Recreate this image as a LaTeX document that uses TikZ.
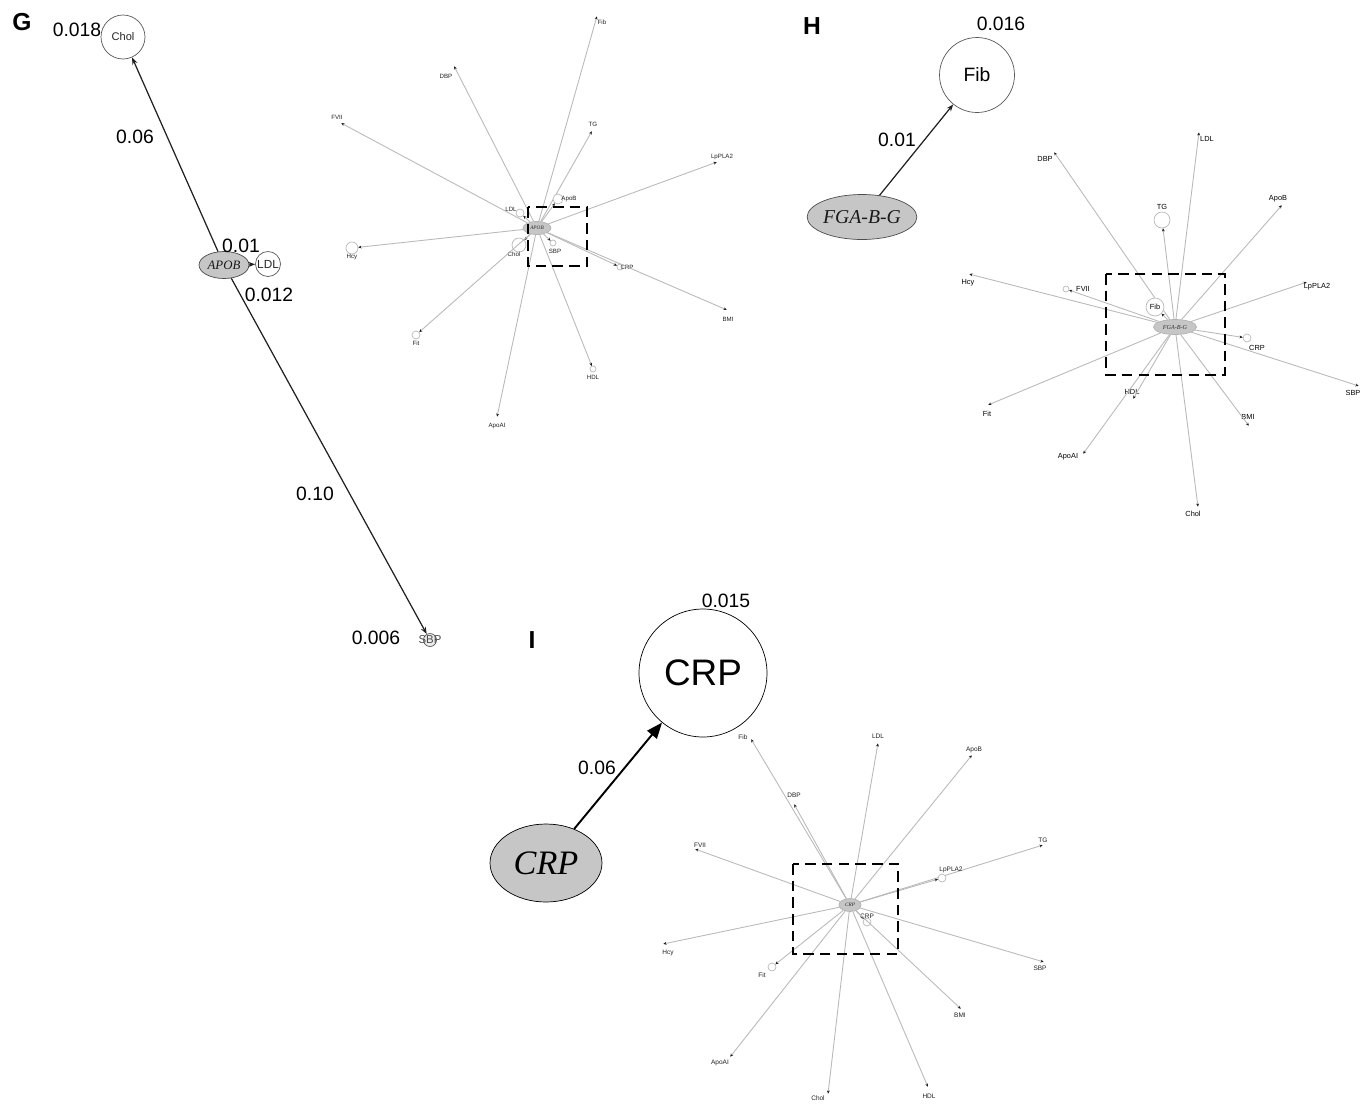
\documentclass[tikz,border=0pt]{standalone}
\usepackage{fontspec}
\setmainfont{Liberation Sans}
\newfontfamily\genefont{Liberation Serif}
\usetikzlibrary{arrows.meta, shapes.geometric, positioning}
\def\px{0.02}

\tikzset{
  num/.style={font=\fontsize{11}{13}\selectfont, inner sep=0pt},
  panel/.style={font=\fontsize{14}{16}\selectfont\bfseries, inner sep=0pt},
  trait/.style={circle, draw=gray!70!black, fill=white, inner sep=0pt, text=gray!30!black, font=\fontsize{#1}{#1}\selectfont},
  gene/.style={ellipse, draw=gray!60!black, fill=gray!45, inner sep=0pt, text=gray!20!black, font=\genefont\itshape\fontsize{#1}{#1}\selectfont},
  link/.style={draw=gray!25!black, line width=0.7pt, -{Stealth[length=4pt,width=3pt]}},
  spoke/.style={draw=gray!55, line width=0.5pt, -{Stealth[length=1.8pt,width=1.6pt,color=gray!20!black]}},
  leaf/.style={circle, draw=gray!55, fill=white, inner sep=0pt},
  lbl/.style={inner sep=0pt, text=gray!25!black, font=\fontsize{#1}{#1}\selectfont},
  hub/.style={ellipse, draw=gray!60, fill=gray!45, inner sep=0pt, text=gray!35!black, font=\genefont\itshape\fontsize{#1}{#1}\selectfont},
  zoombox/.style={draw=black, line width=1.6pt, dash pattern=on 6pt off 3.5pt},
}

\begin{document}
\begin{tikzpicture}[x=\px cm, y=-\px cm]
  \clip (0,0) rectangle (1363,1103);

  % Panel G
  \node[panel] (gtag) at (22,22) {G};
  \node[num] (gcholv) at (77,30) {0.018};
  \node[trait=6.3, minimum size=0.88cm] (chol) at (123,37) {Chol};
  \node[gene=7.3, minimum width=1cm, minimum height=0.54cm] (apob) at (224,265) {APOB};
  \node[trait=6.7, minimum size=0.5cm] (ldl) at (268,264) {LDL};
  \node[trait=4, minimum size=0.26cm, fill=gray!15] (sbp) at (430,640) {};
  \node[lbl=6.5, text=gray!60!black] (sbpt) at (430,640) {SBP};
  \node[num] (gl1) at (135,137) {0.06};
  \node[num] (gl2) at (241,246) {0.01};
  \node[num] (gl3) at (269,295) {0.012};
  \node[num] (gl4) at (315,494) {0.10};
  \node[num] (gl5) at (376,638) {0.006};
  \draw[link] (apob) -- (chol);
  \draw[link] (apob) -- (ldl);
  \draw[link] (apob) -- (sbp);

  % G: whole network
  \node[hub=3, minimum width=0.56cm, minimum height=0.26cm] (gc) at (537,228) {APOB};
  \foreach \n/\x/\y/\r/\lx/\ly in {
      Fib/597/16/0/602/22,
      DBP/454/66/0/446/76,
      FVII/341/123/0/337/117,
      TG/592/131/0/593/124,
      LpPLA2/717/162/0/722/157,
      ApoB/558/199/5/569/199,
      LDL/520/213/4/511/209,
      Hcy/352/248/6/352/257,
      Chol/519/245/7/514/254,
      SBP/553/243/3/555/251,
      CRP/620/267/3/627/267,
      BMI/727/310/0/728/319,
      Fit/416/335/4/416/343,
      HDL/593/369/3/593/377,
      ApoAI/497/417/0/497/426} {
    \node[leaf, minimum size=\r*0.04cm] (g\n) at (\x,\y) {};
    \node[lbl=3.5] (g\n-t) at (\lx,\ly) {\n};
    \draw[spoke] (gc) -- (g\n);
  }
  \draw[zoombox] (528,207) rectangle (587,266);

  % Panel H
  \node[panel] (htag) at (812,26) {H};
  \node[num] (hfibv) at (1001,24) {0.016};
  \node[trait=11, minimum size=1.5cm, text=black] (fib) at (977,75) {Fib};
  \node[gene=11.2, minimum width=2.06cm, minimum height=0.9cm] (fgab) at (862,217) {FGA-B-G};
  \node[num] (hl1) at (897,140) {0.01};
  \draw[link] (fgab) -- (fib);

  % H: whole network
  \node[hub=3.5, minimum width=0.86cm, minimum height=0.3cm] (hc) at (1175,327) {FGA-B-G};
  \foreach \n/\x/\y/\r/\lx/\ly in {
      LDL/1199/132/0/1207/139,
      DBP/1054/152/0/1045/159,
      TG/1162/220/8/1162/207,
      ApoB/1282/205/0/1278/199,
      Hcy/969/274/0/968/283,
      FVII/1066/289/3/1083/289,
      LpPLA2/1307/282/0/1317/287,
      Fib/1155/307/9/1155/307,
      CRP/1247/338/4/1257/348,
      SBP/1359/386/0/1353/393,
      Fit/988/405/0/987/414,
      HDL/1133/399/0/1132/392,
      BMI/1249/426/0/1248/417,
      ApoAI/1083/454/0/1068/457,
      Chol/1198/507/0/1193/514} {
    \node[leaf, minimum size=\r*0.04cm] (h\n) at (\x,\y) {};
    \node[lbl=4.2, text=black] (h\n-t) at (\lx,\ly) {\n};
    \draw[spoke] (hc) -- (h\n);
  }
  \draw[zoombox] (1106,274) rectangle (1225,375);

  % Panel I
  \node[panel] (itag) at (532,640) {I};
  \node[num] (icrpv) at (726,601) {0.015};
  \node[trait=21, minimum size=2.56cm, draw=black, text=black] (crp) at (703,673) {CRP};
  \node[gene=19.5, minimum width=2.24cm, minimum height=1.56cm, draw=black, text=black] (crpg) at (546,863) {CRP};
  \node[num] (il1) at (597,768) {0.06};
  \draw[link, draw=black, line width=1.1pt, -{Triangle[length=9pt,width=7pt]}] (crpg) -- (crp);

  % I: whole network
  \node[hub=3, minimum width=0.44cm, minimum height=0.26cm] (ic) at (850,905) {CRP};
  \foreach \n/\x/\y/\r/\lx/\ly in {
      Fib/751/739/0/743/737,
      LDL/878/743/0/878/736,
      ApoB/972/755/0/974/750,
      DBP/794/804/0/794/795,
      FVII/695/849/0/700/845,
      TG/1043/845/0/1043/840,
      LpPLA2/942/878/4/951/870,
      CRP/867/922/4/867/916,
      Hcy/663/944/0/668/953,
      Fit/772/967/4/762/975,
      SBP/1044/962/0/1040/968,
      BMI/961/1009/0/960/1015,
      ApoAI/730/1057/0/720/1063,
      Chol/828/1094/0/818/1098,
      HDL/928/1087/0/929/1096} {
    \node[leaf, minimum size=\r*0.04cm] (i\n) at (\x,\y) {};
    \node[lbl=3.7] (i\n-t) at (\lx,\ly) {\n};
    \draw[spoke] (ic) -- (i\n);
  }
  \draw[zoombox] (793,864) rectangle (898,954);
\end{tikzpicture}
\end{document}
